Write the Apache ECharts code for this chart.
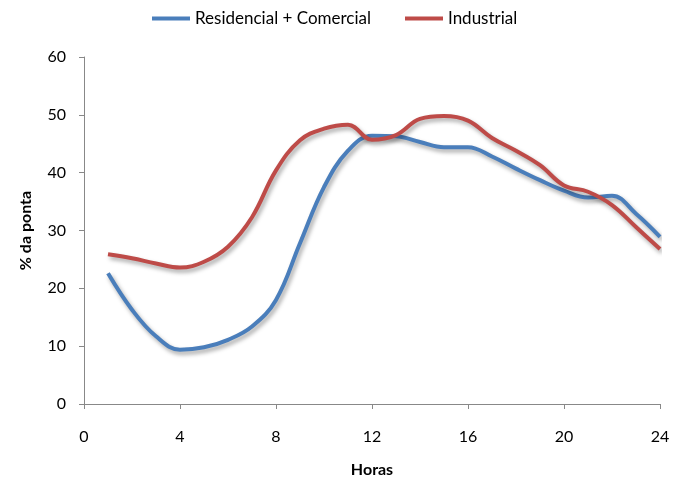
<!DOCTYPE html>
<html><head><meta charset="utf-8">
<script src="https://cdn.jsdelivr.net/npm/echarts@6/dist/echarts.min.js"></script>
<style>html,body{margin:0;padding:0;background:#fff}#c{width:673px;height:485px}</style>
</head><body><div id="c"></div>
<script>
const hours = [1,2,3,4,5,6,7,8,9,10,11,12,13,14,15,16,17,18,19,20,21,22,23,24];
const residencialComercial = [22.6,16.3,11.7,9.4,9.8,11.1,13.4,18.0,27.8,37.5,43.8,46.4,46.3,45.3,44.4,44.4,42.8,40.7,38.7,36.9,35.7,36.0,32.9,28.9];
const industrial = [25.9,25.2,24.3,23.6,24.6,27.2,32.3,40.4,45.6,47.6,48.3,45.7,46.5,49.3,49.8,49.0,46.0,43.8,41.3,37.8,36.7,34.4,30.6,26.8];
const xTicks = [0,4,8,12,16,20,24];
const yTicks = [0,10,20,30,40,50,60];
const seriesNames = ['Residencial + Comercial','Industrial'];
const colors = ['#4a7ebb','#be4b48'];

const font = 'Lato, "Open Sans", sans-serif';
const chart = echarts.init(document.getElementById('c'));
const mk = (name, vals, color) => ({
  name, type: 'line', data: hours.map((h,i)=>[h, vals[i]]),
  smooth: 0.4, showSymbol: false, symbol: 'none',
  lineStyle: {color, width: 4, shadowColor: 'rgba(0,0,0,0.35)', shadowBlur: 4, shadowOffsetX: 2, shadowOffsetY: 3},
  itemStyle: {color}
});
chart.setOption({
  animation: false,
  backgroundColor: '#fff',
  legend: {
    top: 5, left: 147, itemGap: 34, itemWidth: 38, itemHeight: 4,
    icon: 'rect',
    textStyle: {fontFamily: font, fontSize: 17, color: '#000'},
    data: seriesNames
  },
  grid: {left: 84, right: 13, top: 57, bottom: 81},
  xAxis: {
    type: 'value', min: 0, max: 24, interval: 4,
    name: 'Horas', nameLocation: 'middle', nameGap: 58,
    nameTextStyle: {fontFamily: font, fontSize: 16, fontWeight: 'bold', color: '#000'},
    axisLine: {lineStyle: {color: '#888'}},
    axisTick: {show: true, length: 5, lineStyle: {color: '#888'}},
    axisLabel: {fontFamily: font, fontSize: 16, color: '#000', margin: 25},
    splitLine: {show: false}
  },
  yAxis: {
    type: 'value', min: 0, max: 60, interval: 10,
    name: '% da ponta', nameLocation: 'middle', nameGap: 50, nameRotate: 90,
    nameTextStyle: {fontFamily: font, fontSize: 16, fontWeight: 'bold', color: '#000'},
    axisLine: {show: true, lineStyle: {color: '#888'}},
    axisTick: {show: true, length: 5, lineStyle: {color: '#888'}},
    axisLabel: {fontFamily: font, fontSize: 16, color: '#000', margin: 18},
    splitLine: {show: false}
  },
  series: [mk(seriesNames[0], residencialComercial, colors[0]), mk(seriesNames[1], industrial, colors[1])]
});
</script></body></html>
